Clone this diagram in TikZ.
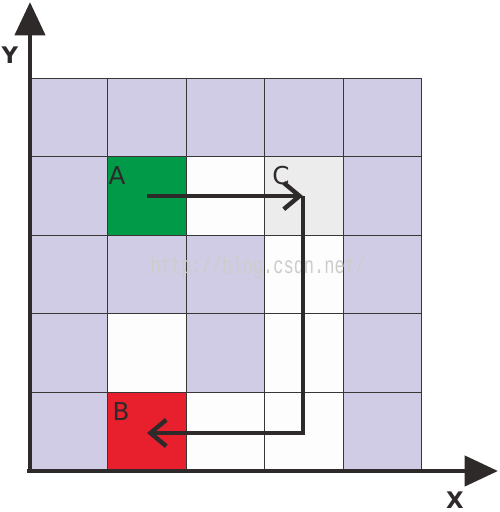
\documentclass[tikz,border=0pt]{standalone}
\usepackage{fontspec}
\setsansfont{DejaVu Sans}
\setmonofont{Liberation Mono}
\usetikzlibrary{positioning, arrows.meta}

\definecolor{cL}{HTML}{D0CCE6}
\definecolor{cG}{HTML}{009A49}
\definecolor{cW}{HTML}{FDFDFD}
\definecolor{cC}{HTML}{ECECEC}
\definecolor{cR}{HTML}{E8202E}
\definecolor{gridLine}{HTML}{3A3636}
\definecolor{axisInk}{HTML}{2E2A2A}

\begin{document}
\begin{tikzpicture}[
		x=0.02cm, y=-0.02cm,
		font=\sffamily,
		% Grid cells
		cell/.style={draw=gridLine, line width=0.5pt, minimum size=1.57cm, inner sep=0pt, outer sep=0pt},
		% Labels
		cellLabel/.style={font=\sffamily\fontsize{14}{14}\selectfont, text=axisInk},
		axisLabel/.style={font=\sffamily\fontsize{13}{13}\selectfont\bfseries, text=axisInk},
		% Arrow styles
		axisArrow/.style={-{Triangle[length=19pt, width=17pt]}, line width=2.8pt, color=axisInk},
		pathArrow/.style={-{Straight Barb[length=9pt, width=15pt]}, line width=2.5pt, color=axisInk}
		]
		\useasboundingbox (0,0) rectangle (500,512);
		
		% =========================================================
		% THE GRID
		% =========================================================
		\foreach \r/\row in {1/{L,L,L,L,L}, 2/{L,G,W,C,L}, 3/{L,L,L,W,L}, 4/{L,W,L,W,L}, 5/{L,R,W,W,L}}{
			\foreach \col [count=\c] in \row{
				\node[cell, fill=c\col] (cell-\c-\r) at ({29+78.5*(\c-0.5)}, {78+78.5*(\r-0.5)}) {};
			}
		}
		
		% watermark
		\node[font=\ttfamily\fontsize{9.7}{10}\selectfont, text=black!20, yscale=1.4] (mark) at (258,267) {http://blog.csdn.net/};
		
		% Cell letters
		\node[cellLabel] (A) at (117,176) {A};
		\node[cellLabel] (C) at (281,176) {C};
		\node[cellLabel] (B) at (121,412) {B};
		
		% =========================================================
		% THE ROUTE
		% =========================================================
		\coordinate (pA) at (147,196);
		\coordinate (pC) at (303,196);
		\coordinate (pB) at (147,433);
		\draw[pathArrow] (pA) -- (pC);
		\draw[pathArrow, line join=miter] (pC) |- (pB);
		
		% =========================================================
		% AXES
		% =========================================================
		\coordinate (origin) at (30,471);
		\coordinate (yEnd) at (30,2);
		\coordinate (xEnd) at (498,471);
		\draw[axisArrow] (origin) -- (yEnd);
		\draw[axisArrow] (27,471) -- (xEnd);
		\node[axisLabel] (Y) at (10,55) {Y};
		\node[axisLabel] (X) at (455,500) {X};
		
	\end{tikzpicture}
\end{document}
